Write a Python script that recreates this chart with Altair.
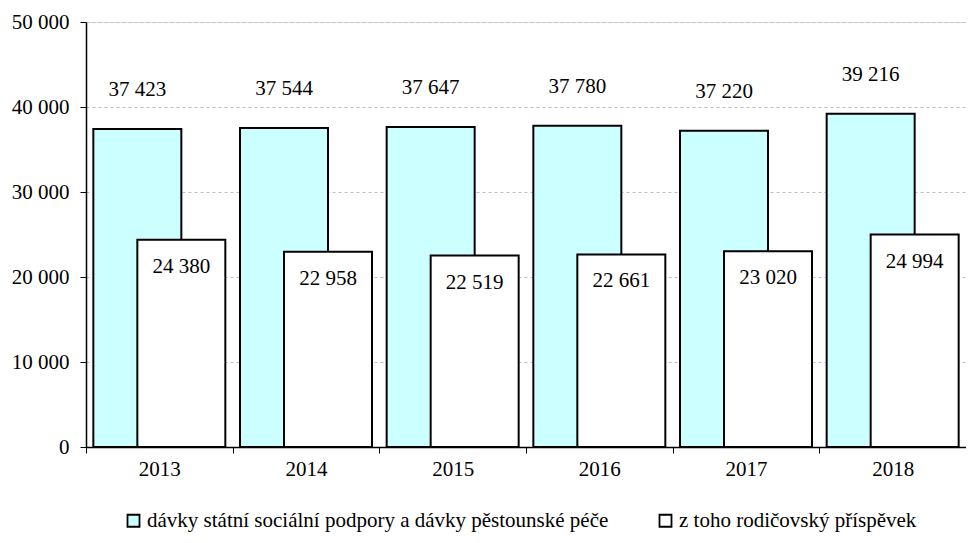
import altair as alt
import pandas as pd

years = ["2013", "2014", "2015", "2016", "2017", "2018"]
benefits_total = [37423, 37544, 37647, 37780, 37220, 39216]
parental_allowance = [24380, 22958, 22519, 22661, 23020, 24994]
series_names = [
    "dávky státní sociální podpory a dávky pěstounské péče",
    "z toho rodičovský příspěvek",
]
series_colors = ["#CCFFFF", "#FFFFFF"]
y_ticks = [0, 10000, 20000, 30000, 40000, 50000]

df1 = pd.DataFrame({"year": years, "value": benefits_total, "series": series_names[0]})
df2 = pd.DataFrame({"year": years, "value": parental_allowance, "series": series_names[1]})

FONT = "Liberation Serif"
FS = 21
label_expr = "replace(format(datum.value, ','), ',', ' ')"

x = alt.X(
    "year:N",
    title=None,
    scale=alt.Scale(paddingInner=0, paddingOuter=0),
    axis=alt.Axis(
        tickBand="extent", labelAngle=0, domainColor="black", domainWidth=1.5,
        tickColor="black", tickSize=6, labelPadding=5, labelFontSize=FS,
        labelFont=FONT, labelColor="black", grid=False,
    ),
)
y = alt.Y(
    "value:Q",
    title=None,
    scale=alt.Scale(domain=[0, 50000], nice=False),
    axis=alt.Axis(
        values=y_ticks, labelExpr=label_expr, domainColor="black", domainWidth=1.5,
        tickColor="black", tickSize=6, labelPadding=11, labelFontSize=FS,
        labelFont=FONT, labelColor="black", grid=True, gridDash=[3, 3],
        gridColor="#bfbfbf", gridWidth=1,
    ),
)
color = alt.Color(
    "series:N",
    scale=alt.Scale(domain=series_names, range=series_colors),
    legend=alt.Legend(
        title=None, orient="none", legendX=37, legendY=488, direction="horizontal",
        symbolType="square", symbolSize=144, symbolStrokeColor="black",
        symbolStrokeWidth=1.8, labelFontSize=FS, labelFont=FONT, labelColor="black",
        labelLimit=1000, columnPadding=46, labelOffset=3, padding=0,
    ),
)

def layer_for(df, offset, label_dy):
    base = alt.Chart(df).transform_calculate(label=label_expr)
    bars = base.mark_bar(width=88, xOffset=offset, stroke="black", strokeWidth=2).encode(
        x=x, y=y, color=color
    )
    text = base.mark_text(
        xOffset=offset, dy=label_dy, fontSize=FS, font=FONT, baseline="middle", color="black"
    ).encode(x=x, y=y, text="label:N")
    return bars, text

b1, t1 = layer_for(df1, -22, -39)
b2, t2 = layer_for(df2, 22, 27)

chart = alt.layer(b1, b2, t1, t2).properties(
    width=880,
    height=425,
    padding={"left": 78, "top": 14, "right": 0, "bottom": 87},
    autosize=alt.AutoSizeParams(type="none"),
).configure_view(strokeOpacity=0).configure(font=FONT)

chart.save("out.html", embed_options={"renderer": "svg", "actions": False})
